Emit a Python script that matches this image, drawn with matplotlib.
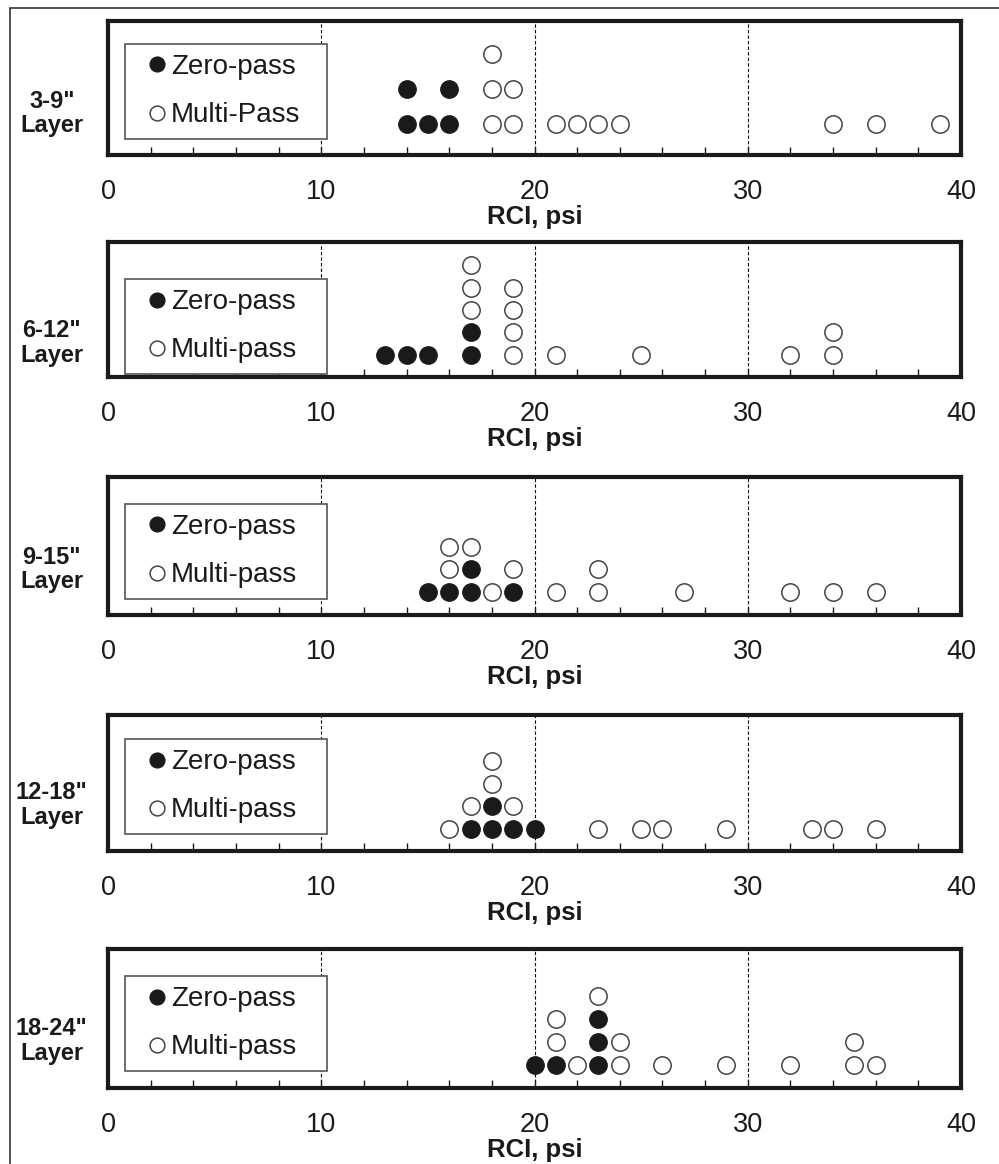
import matplotlib
matplotlib.use('Agg')
import matplotlib.pyplot as plt
from matplotlib.patches import Rectangle
from matplotlib.ticker import MultipleLocator
from collections import Counter

plt.rcParams['font.family'] = ['Liberation Sans', 'DejaVu Sans']

# RCI readings (psi) per soil layer, one value per site
layer_names = ['3-9"\nLayer', '6-12"\nLayer', '9-15"\nLayer', '12-18"\nLayer', '18-24"\nLayer']
multi_labels = ['Multi-Pass', 'Multi-pass', 'Multi-pass', 'Multi-pass', 'Multi-pass']

zero_3_9 = [14, 14, 15, 16, 16]
multi_3_9 = [18, 18, 18, 19, 19, 21, 22, 23, 24, 34, 36, 39]

zero_6_12 = [13, 14, 15, 17, 17]
multi_6_12 = [17, 17, 17, 19, 19, 19, 19, 21, 25, 32, 34, 34]

zero_9_15 = [15, 16, 17, 17, 19]
multi_9_15 = [16, 16, 17, 18, 19, 21, 23, 23, 27, 32, 34, 36]

zero_12_18 = [17, 18, 18, 19, 20]
multi_12_18 = [16, 17, 18, 18, 19, 23, 25, 26, 29, 33, 34, 36]

zero_18_24 = [20, 21, 23, 23, 23]
multi_18_24 = [21, 21, 22, 23, 24, 24, 26, 29, 32, 35, 35, 36]

zero_pass = [zero_3_9, zero_6_12, zero_9_15, zero_12_18, zero_18_24]
multi_pass = [multi_3_9, multi_6_12, multi_9_15, multi_12_18, multi_18_24]

# panel layout (pixels from top of a 999x1164 canvas)
W, H = 999, 1164
tops = [21, 242, 477, 715, 949]
bottoms = [155, 377, 615, 851, 1088]
ylims = [(0.11, 3.94), (0, 6.05), (0, 6.05), (0, 6.05), (0, 6.05)]
legend_y0 = [0.12, 0.022, 0.116, 0.125, 0.122]
label_y = [0.31, 0.25, 0.33, 0.34, 0.34]


def stack(values, below=()):
    # dot-plot heights: repeated values pile up on top of each other
    counts = Counter(below)
    heights = []
    for v in values:
        counts[v] += 1
        heights.append(counts[v])
    return heights


fig = plt.figure(figsize=(W / 100, H / 100), dpi=100)

ink = '#1a1a1a'
for i in range(5):
    ax = fig.add_axes([108 / W, 1 - bottoms[i] / H, (961 - 108) / W, (bottoms[i] - tops[i]) / H])

    zy = stack(zero_pass[i])
    my = stack(multi_pass[i], zero_pass[i])
    ax.plot(zero_pass[i], zy, 'o', ms=12.5, mfc=ink, mec=ink, mew=1, label='Zero-pass', zorder=3)
    ax.plot(multi_pass[i], my, 'o', ms=12.5, mfc='white', mec='#444444', mew=1.1,
            label=multi_labels[i], zorder=3)

    ax.set_xlim(0, 40)
    ax.set_ylim(*ylims[i])
    ax.set_yticks([])
    ax.xaxis.set_major_locator(MultipleLocator(10))
    ax.xaxis.set_minor_locator(MultipleLocator(2))
    ax.tick_params(axis='x', which='both', direction='in', length=6, width=1,
                   color=ink, labelsize=19.5, labelcolor=ink, pad=17)
    ax.xaxis.grid(True, which='major', linestyle=(0, (3, 2)), color='k', lw=0.8)
    for s in ax.spines.values():
        s.set_linewidth(3)
        s.set_color(ink)

    ax.set_xlabel('RCI, psi', fontsize=18.5, fontweight='bold', color=ink, labelpad=0)
    ax.text(-0.066, label_y[i], layer_names[i], transform=ax.transAxes, ha='center',
            va='center', fontsize=17, fontweight='bold', color=ink, linespacing=1.1)

    leg = ax.legend(loc='lower left', bbox_to_anchor=(0.02, legend_y0[i], 0.237, 0.5),
                    mode='expand', borderaxespad=0, fontsize=20, frameon=True,
                    fancybox=False, edgecolor='#555555', framealpha=1,
                    borderpad=0.38, labelspacing=0.8, handlelength=1.55,
                    handletextpad=-0.27, markerscale=0.85)
    leg.get_frame().set_linewidth(1.2)
    for t in leg.get_texts():
        t.set_color(ink)

# page border
fig.patches.append(Rectangle((10 / W, -0.1), 1.5, 1.1 - 8 / H, transform=fig.transFigure,
                             fill=False, edgecolor='#333333', lw=1.2))

fig.savefig('out.png', dpi=100)
